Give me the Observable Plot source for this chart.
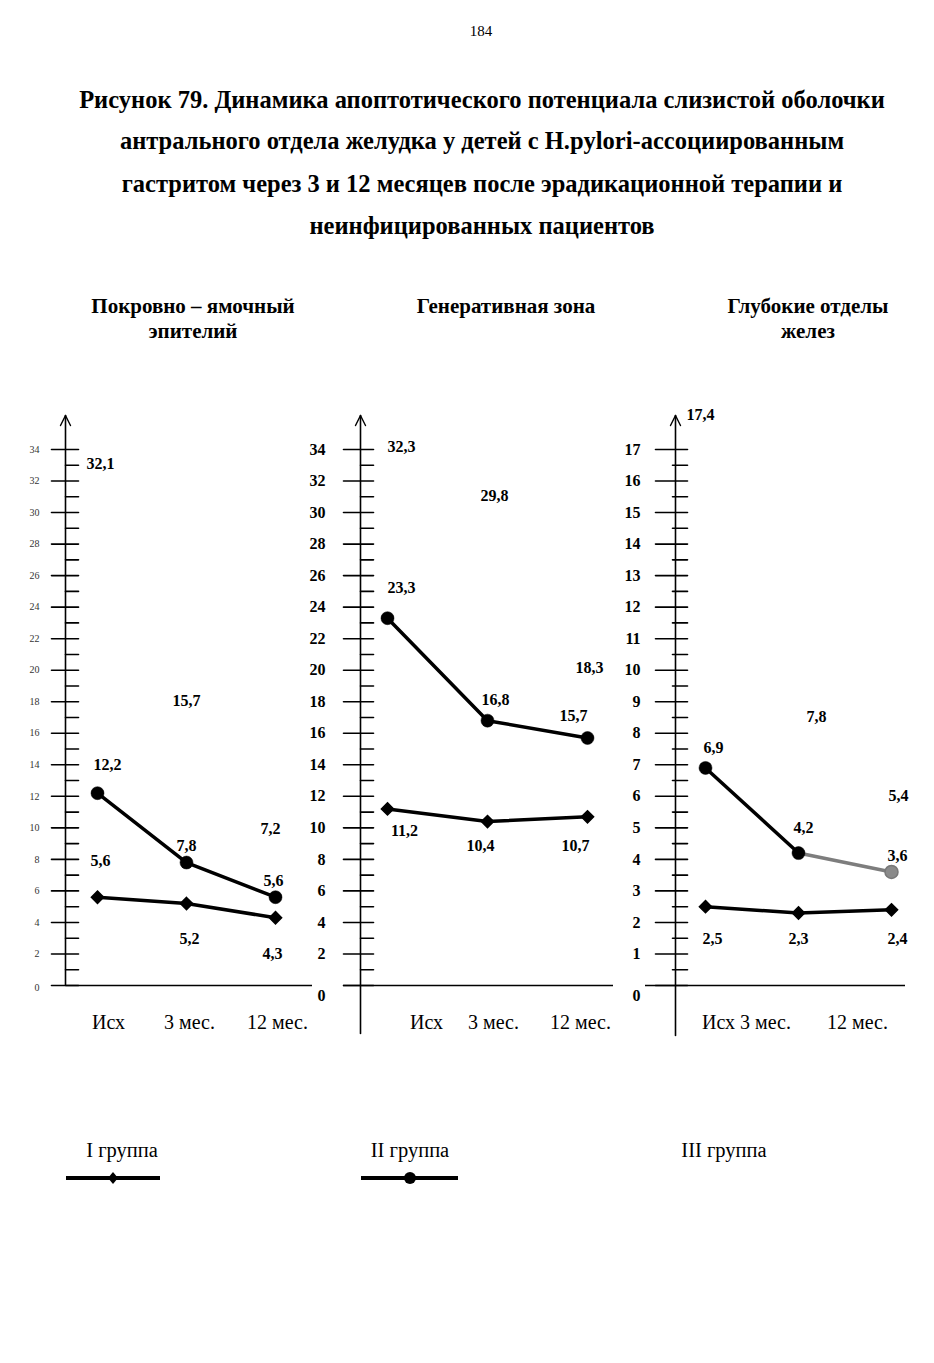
<!DOCTYPE html>
<html><head><meta charset="utf-8">
<script src="https://cdn.jsdelivr.net/npm/d3@7"></script>
<script src="https://cdn.jsdelivr.net/npm/@observablehq/plot@0.6"></script>
<style>
body{margin:0;background:#fff;}
#page{position:relative;width:934px;height:1363px;background:#fff;font-family:"Liberation Serif","Times New Roman",serif;color:#000;overflow:hidden}
.t{position:absolute;white-space:nowrap;line-height:1;transform:translate(-50%,-50%)}
.b{font-weight:bold}
</style></head><body><div id="page"></div>
<script>
// ---- data ----
const periods = ["Исх", "3 мес.", "12 мес."];
const groups = ["I группа", "II группа", "III группа"];
const panelTitles = [["Покровно – ямочный", "эпителий"], ["Генеративная зона"], ["Глубокие отделы", "желез"]];
// Покровно-ямочный эпителий
const pitGroup1 = [5.6, 5.2, 4.3];
const pitGroup2 = [12.2, 7.8, 5.6];
const pitGroup3 = [32.1, 15.7, 7.2];
// Генеративная зона
const genGroup1 = [11.2, 10.4, 10.7];
const genGroup2 = [23.3, 16.8, 15.7];
const genGroup3 = [32.3, 29.8, 18.3];
// Глубокие отделы желез
const deepGroup1 = [2.5, 2.3, 2.4];
const deepGroup2 = [6.9, 4.2, 3.6];
const deepGroup3 = [17.4, 7.8, 5.4];
// tick labels
const ticksPit = [0,2,4,6,8,10,12,14,16,18,20,22,24,26,28,30,32,34];
const ticksGen = [0,2,4,6,8,10,12,14,16,18,20,22,24,26,28,30,32,34];
const ticksDeep = [0,1,2,3,4,5,6,7,8,9,10,11,12,13,14,15,16,17];

const titleLines = [
  "Рисунок 79. Динамика апоптотического потенциала слизистой оболочки",
  "антрального отдела желудка у детей с H.pylori-ассоциированным",
  "гастритом через 3 и 12 месяцев после эрадикационной терапии и",
  "неинфицированных пациентов"
];

// ---- layout ----
const page = document.getElementById("page");
function txt(s, x, y, size, bold) {
  const d = document.createElement("div");
  d.className = "t" + (bold ? " b" : "");
  d.style.left = x + "px"; d.style.top = y + "px"; d.style.fontSize = size + "px";
  d.textContent = s; page.appendChild(d);
}
txt("184", 481, 31, 15, false);
[100, 141, 184, 226].forEach((y, i) => txt(titleLines[i], 482, y, 24.5, true));
const titleX = [193, 506, 808];
panelTitles.forEach((lines, i) => lines.forEach((s, k) => txt(s, titleX[i], 306 + 25 * k, 21, true)));

const fmt = v => v.toFixed(1).replace(".", ",");
const tickShape = {draw(ctx, l) { ctx.moveTo(0, 0); ctx.lineTo(0, -l); }};
const chevron = {draw(ctx) { ctx.moveTo(-5, 10); ctx.lineTo(0, 0); ctx.lineTo(5, 10); }};
const H = 650;

const panels = [
  {left: 0, width: 320, mL: 65, mR: 8, mT: 15, mB: 65, yMax: 34, xRange: [97, 275], baseInset: 1,
   g1: pitGroup1, g2: pitGroup2, g3: pitGroup3, major: ticksPit,
   majorLen: 27, majorDx: -14, minorLen: 13, minorDx: 0, tickPad: 26, tickFont: 10, tickBold: false, zeroDy: 2,
   g1Off: [[3, -36], [3, 35], [-3, 36]], g2Off: [[10, -28], [0, -17], [-2, -16]], g3Off: [[3, -16], [0, -37], [-5, -43]],
   xDx: [11, 3, 2], xDy: 43, fade: false},
  {left: 295, width: 325, mL: 65, mR: 7, mT: 15, mB: 17, yMax: 34, xRange: [91, 292], baseInset: -17,
   g1: genGroup1, g2: genGroup2, g3: genGroup3, major: ticksGen,
   majorLen: 30, majorDx: -17, minorLen: 13, minorDx: 0, tickPad: 35, tickFont: 16, tickBold: true, zeroDy: 10,
   g1Off: [[17, 22], [-7, 24], [-12, 29]], g2Off: [[14, -30], [8, -21], [-14, -22]], g3Off: [[14, -29], [7, -20], [2, -29]],
   xDx: [39, 6, -7], xDy: -5, fade: false},
  {left: 600, width: 320, mL: 75, mR: 15, mT: 15, mB: 15, yMax: 17, xRange: [104, 291], baseInset: -30,
   g1: deepGroup1, g2: deepGroup2, g3: deepGroup3, major: ticksDeep,
   majorLen: 32, majorDx: -20, minorLen: 15, minorDx: -3, tickPad: 35, tickFont: 16, tickBold: true, zeroDy: 10,
   g1Off: [[7, 32], [0, 26], [6, 29]], g2Off: [[8, -20], [5, -25], [6, -16]], g3Off: [[-5, -22], [18, -23], [7, -19]],
   xDx: [13, -33, -34], xDy: -7, fade: true}
];

panels.forEach(cfg => {
  const rows = periods.map((t, i) => ({t, i, g1: cfg.g1[i], g2: cfg.g2[i], g3: cfg.g3[i]}));
  const minor = cfg.major.slice(0, -1).map((v, k) => (v + cfg.major[k + 1]) / 2);
  const fh = H - cfg.mT - cfg.mB;
  const labelMarks = [];
  [["g1", cfg.g1Off], ["g2", cfg.g2Off], ["g3", cfg.g3Off]].forEach(([key, off]) => {
    rows.forEach((r, i) => labelMarks.push(Plot.text([r], {
      x: "t", y: key, text: d => fmt(d[key]), dx: off[i][0], dy: off[i][1],
      fontSize: 16, fontWeight: "bold", fontFamily: "Liberation Serif"
    })));
  });
  const xLabelMarks = rows.map((r, i) => Plot.text([r], {
    x: "t", frameAnchor: "bottom", text: "t", dx: cfg.xDx[i], dy: cfg.xDy,
    fontSize: 20, fontFamily: "Liberation Serif"
  }));
  const tickTextOpts = {frameAnchor: "left", text: d => String(d), textAnchor: "end", dx: -cfg.tickPad,
    fontSize: cfg.tickFont, fontWeight: cfg.tickBold ? "bold" : "normal", fontFamily: "Liberation Serif", fill: cfg.tickBold ? "#000" : "#333"};
  const g2Main = cfg.fade ? rows.slice(0, 2) : rows;
  const marks = [
    Plot.vector([0], {frameAnchor: "bottom-left", length: fh, rotate: 0, anchor: "start", shape: tickShape, stroke: "#000", strokeWidth: 1.6}),
    Plot.vector([0], {frameAnchor: "top-left", length: 10, rotate: 0, anchor: "start", shape: chevron, stroke: "#000", fill: "none", strokeWidth: 1.4}),
    Plot.vector(cfg.major, {y: d => d, frameAnchor: "left", rotate: 90, anchor: "start", length: cfg.majorLen, dx: cfg.majorDx, shape: tickShape, stroke: "#000", strokeWidth: 1.6}),
    Plot.vector(minor, {y: d => d, frameAnchor: "left", rotate: 90, anchor: "start", length: cfg.minorLen, dx: cfg.minorDx, shape: tickShape, stroke: "#000", strokeWidth: 1.6}),
    Plot.ruleY([0], {insetLeft: cfg.baseInset, stroke: "#000", strokeWidth: 1.6}),
    Plot.text(cfg.major.slice(1), {y: d => d, ...tickTextOpts}),
    Plot.text(cfg.major.slice(0, 1), {y: d => d, ...tickTextOpts, dy: cfg.zeroDy}),
    Plot.line(g2Main, {x: "t", y: "g2", stroke: "#000", strokeWidth: 3.5}),
    cfg.fade ? Plot.line(rows.slice(1), {x: "t", y: "g2", stroke: "#7d7d7d", strokeWidth: 3.5}) : null,
    Plot.line(rows, {x: "t", y: "g1", stroke: "#000", strokeWidth: 3.5}),
    Plot.dot(cfg.fade ? rows.slice(0, 2) : rows, {x: "t", y: "g2", r: 6.5, fill: "#000", stroke: "#000", strokeWidth: 0.5}),
    cfg.fade ? Plot.dot(rows.slice(2), {x: "t", y: "g2", r: 6.5, fill: "#8a8a8a", stroke: "#777"}) : null,
    Plot.dot(rows, {x: "t", y: "g1", r: 5.5, symbol: "diamond2", fill: "#000", stroke: "#000"}),
    ...labelMarks,
    ...xLabelMarks
  ].filter(Boolean);
  const svg = Plot.plot({
    width: cfg.width, height: H,
    marginLeft: cfg.mL, marginRight: cfg.mR, marginTop: cfg.mT, marginBottom: cfg.mB,
    x: {type: "point", domain: periods, range: cfg.xRange, padding: 0, axis: null},
    y: {domain: [0, cfg.yMax], range: [585, 49], axis: null},
    style: {fontFamily: "Liberation Serif", background: "transparent", overflow: "visible", color: "#000"},
    marks
  });
  svg.style.position = "absolute";
  svg.style.left = cfg.left + "px";
  svg.style.top = "400px";
  page.appendChild(svg);
});

// ---- legend ----
const legendX = [122, 410, 724];
groups.forEach((g, i) => txt(g, legendX[i], 1150, 20.5, false));
const ns = "http://www.w3.org/2000/svg";
const lg = document.createElementNS(ns, "svg");
lg.setAttribute("width", 934); lg.setAttribute("height", 40);
lg.style.position = "absolute"; lg.style.left = "0px"; lg.style.top = "1158px";
lg.innerHTML =
  '<line x1="66" x2="160" y1="20" y2="20" stroke="#000" stroke-width="4"/>' +
  '<path d="M113,14 L118,20 L113,26 L108,20 Z" fill="#000"/>' +
  '<line x1="361" x2="458" y1="20" y2="20" stroke="#000" stroke-width="4"/>' +
  '<circle cx="410" cy="20" r="6" fill="#000"/>';
page.appendChild(lg);
</script>
</body></html>
